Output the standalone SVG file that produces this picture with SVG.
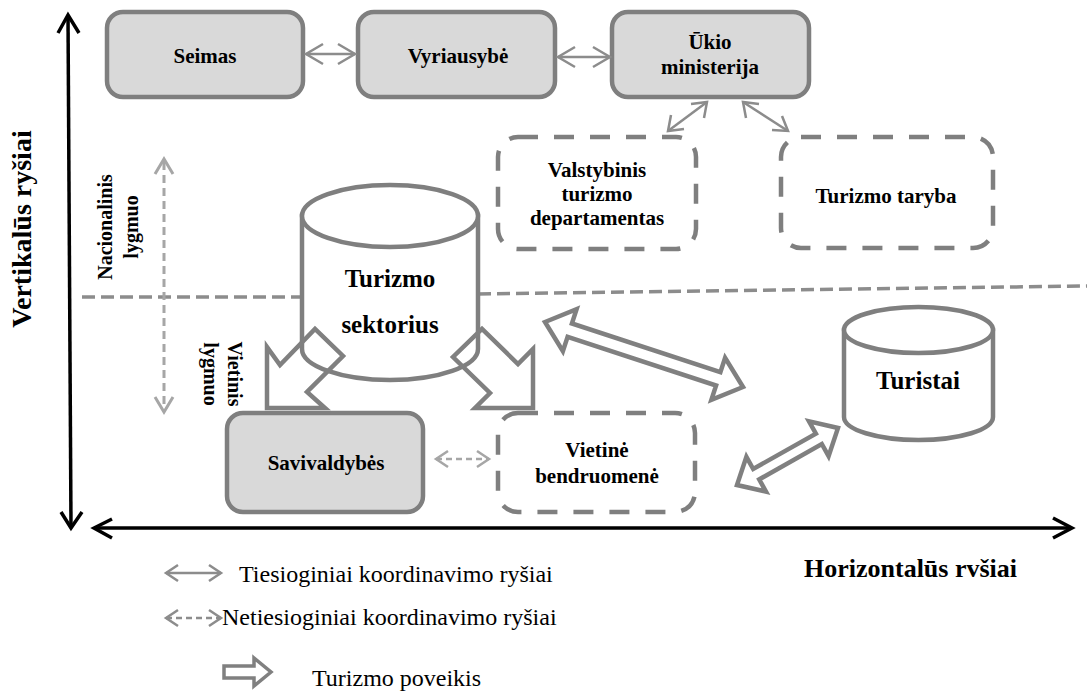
<svg xmlns="http://www.w3.org/2000/svg" width="1087" height="698" viewBox="0 0 1087 698">
<defs>
<style>
.box{fill:#d9d9d9;stroke:#7f7f7f;stroke-width:4.5}
.dbox{fill:none;stroke:#7f7f7f;stroke-width:4.5;stroke-dasharray:20 16}
.cyl{fill:#fff;stroke:#7f7f7f;stroke-width:4.5}
.t{font-family:"Liberation Serif","Times New Roman",serif;font-weight:bold;font-size:21px;fill:#000;text-anchor:middle}
.big{font-size:25px}
.lg{font-family:"Liberation Serif","Times New Roman",serif;font-size:24px;fill:#000}
.thin{fill:none;stroke:#8c8c8c;stroke-width:2.5;stroke-linejoin:miter}
.thind{fill:none;stroke:#a6a6a6;stroke-width:2.5;stroke-dasharray:6 4}
.hollow{fill:none;stroke:#808080;stroke-width:4.5;stroke-linejoin:miter}
.axis{fill:none;stroke:#000;stroke-width:3.5}
.sep{fill:none;stroke:#8c8c8c;stroke-width:3.5;stroke-dasharray:13 6}
.lvl{fill:none;stroke:#a6a6a6;stroke-width:3;stroke-dasharray:8 5}
</style>
</defs>
<rect width="1087" height="698" fill="#fff"/>

<!-- separators and axes -->
<g id="separators">
<line class="sep" x1="82" y1="297" x2="302" y2="297"/>
<line class="sep" x1="478" y1="294" x2="1087" y2="286"/>
</g>
<g id="axes">
<line class="axis" x1="68" y1="16" x2="71" y2="527"/>
<polyline class="axis" points="58,33 68,15 79,33"/>
<polyline class="axis" points="61,512 71,528 82,512"/>
<line class="axis" x1="94" y1="528" x2="1071" y2="528"/>
<polyline class="axis" points="112,519 94,528 112,538"/>
<polyline class="axis" points="1053,518 1072,528 1053,538"/>
<text class="t" style="font-size:28px" transform="translate(31,229) rotate(-90)">Vertikalūs ryšiai</text>
<text class="t" style="font-size:26px;text-anchor:start" x="804" y="577">Horizontalūs rvšiai</text>
</g>

<g id="levels">
<line class="lvl" x1="164" y1="162" x2="164" y2="409"/>
<polyline class="thind" style="stroke-dasharray:none;stroke-width:3" points="155,174 164,159 173,174"/>
<polyline class="thind" style="stroke-dasharray:none;stroke-width:3" points="155,397 164,412 173,397"/>
<text class="t" style="font-size:20px" transform="translate(112,227) rotate(-90)"><tspan x="0" y="0">Nacionalinis</tspan><tspan x="0" y="26">lygmuo</tspan></text>
<text class="t" style="font-size:20px" transform="translate(228,374) rotate(90)"><tspan x="0" y="0">Vietinis</tspan><tspan x="0" y="24">lygmuo</tspan></text>
</g>

<g id="seimas">
<rect class="box" x="107" y="12" width="196" height="85" rx="16"/>
<text class="t" x="205" y="63">Seimas</text>
</g>
<g id="vyriausybe">
<rect class="box" x="358" y="12" width="197" height="85" rx="16"/>
<text class="t" x="458" y="63">Vyriausybė</text>
</g>
<g id="ukio">
<rect class="box" x="612" y="12" width="197" height="85" rx="16"/>
<text class="t" x="710" y="49">Ūkio</text>
<text class="t" x="710" y="74">ministerija</text>
</g>
<g id="valstybinis">
<rect class="dbox" x="498" y="137" width="198" height="112" rx="20"/>
<text class="t" x="597" y="177">Valstybinis</text>
<text class="t" x="597" y="201">turizmo</text>
<text class="t" x="597" y="225">departamentas</text>
</g>
<g id="taryba">
<rect class="dbox" x="781" y="137" width="212" height="111" rx="20"/>
<text class="t" x="886" y="203">Turizmo taryba</text>
</g>

<g id="sektorius">
<path class="cyl" d="M302,216 L302,349 A88,31 0 0 0 478,349 L478,216 Z"/>
<ellipse class="cyl" cx="390" cy="216" rx="88" ry="31"/>
<text class="t big" x="390" y="287">Turizmo</text>
<text class="t big" x="390" y="333">sektorius</text>
</g>

<g id="turistai">
<path class="cyl" d="M844,330 L844,417 A74.5,23 0 0 0 993,417 L993,330 Z"/>
<ellipse class="cyl" cx="918.5" cy="330" rx="74.5" ry="23"/>
<text class="t big" x="918" y="389">Turistai</text>
</g>

<g id="savivaldybes">
<rect class="box" x="227" y="413" width="196" height="99" rx="16"/>
<text class="t" x="326" y="470">Savivaldybės</text>
</g>
<g id="vietine">
<rect class="dbox" x="498" y="413" width="197" height="99" rx="20"/>
<text class="t" x="597" y="457">Vietinė</text>
<text class="t" x="597" y="483">bendruomenė</text>
</g>

<g id="connectors">
<line class="thin" x1="306" y1="54" x2="355" y2="54"/>
<polyline class="thin" points="323,44 306,54 323,64"/>
<polyline class="thin" points="338,44 355,54 338,64"/>
<line class="thin" x1="558" y1="57" x2="610" y2="57"/>
<polyline class="thin" points="575,47 558,57 575,67"/>
<polyline class="thin" points="593,47 610,57 593,67"/>
<line class="thin" x1="707" y1="102" x2="668" y2="131"/>
<polyline class="thin" points="691,104 707,102 704,118"/>
<polyline class="thin" points="671,115 668,131 684,129"/>
<line class="thin" x1="743" y1="102" x2="788" y2="131"/>
<polyline class="thin" points="746,118 743,102 759,104"/>
<polyline class="thin" points="772,130 788,131 782,116"/>
<line class="thind" x1="436" y1="459" x2="489" y2="459"/>
<polyline class="thind" style="stroke-dasharray:none" points="448,451 436,459 448,467"/>
<polyline class="thind" style="stroke-dasharray:none" points="477,451 489,459 477,467"/>
<polygon class="hollow" points="267,408 267,347 280,365 315,329 343,356 307,392 325,408"/>
<polygon class="hollow" points="533,408 533,349 518,364 482,329 453,357 490,393 475,408"/>
<polygon class="hollow" points="545,322 576.6,309.2 571.9,323.5 720.4,372.2 725.1,357.9 743,387 711.4,399.8 716.1,385.5 567.6,336.8 562.9,351.1"/>
<polygon class="hollow" points="737,485 746.4,456.8 753.2,469 815.9,433.6 809,421.4 838,428 828.6,456.2 821.8,444 759.2,479.4 766,491.6"/>
</g>

<g id="legend">
<line class="thin" x1="166" y1="573" x2="221" y2="573"/>
<polyline class="thin" points="178,565 166,573 178,581"/>
<polyline class="thin" points="209,565 221,573 209,581"/>
<text class="lg" x="239" y="582">Tiesioginiai koordinavimo ryšiai</text>
<line class="thind" style="stroke:#8c8c8c" x1="166" y1="618" x2="221" y2="618"/>
<polyline class="thin" points="178,610 166,618 178,626"/>
<polyline class="thin" points="209,610 221,618 209,626"/>
<text class="lg" x="222" y="625">Netiesioginiai koordinavimo ryšiai</text>
<polygon class="hollow" style="stroke-width:3.5" points="224,666 254,666 254,658 271,672 254,686 254,678 224,678"/>
<text class="lg" x="312" y="686">Turizmo poveikis</text>
</g>
</svg>
